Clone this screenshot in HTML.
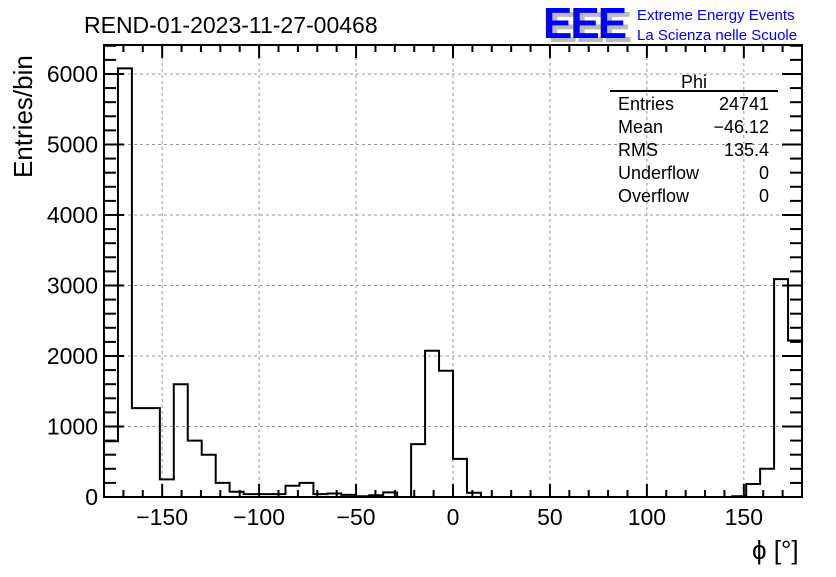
<!DOCTYPE html>
<html><head><meta charset="utf-8"><style>
body{margin:0;background:#fff}
svg text{font-family:"Liberation Sans",sans-serif}
</style></head><body>
<svg id="chart" width="836" height="572" xmlns="http://www.w3.org/2000/svg">
<rect width="836" height="572" fill="#fff"/>
<g id="grid"></g>
<g id="ticks"></g>
<path id="hist" fill="none" stroke="#000" stroke-width="2"/>
<rect x="104" y="45" width="698" height="452" fill="none" stroke="#000" stroke-width="2"/>
<g id="labels" font-size="23" fill="#000"></g>
<text x="84" y="33" font-size="23">REND-01-2023-11-27-00468</text>
<text transform="translate(32,178) rotate(-90)" font-size="26">Entries/bin</text>
<text x="752" y="559" font-size="26">ϕ [°]</text>
<g>
<text x="548" y="42" font-size="44" font-weight="bold" fill="#bbb" letter-spacing="-2">EEE</text>
<text x="543" y="38" font-size="44" font-weight="bold" fill="#0000ff" letter-spacing="-2">EEE</text>
<text x="637" y="20" font-size="15" fill="#0000ff">Extreme Energy Events</text>
<text x="637" y="40" font-size="15" fill="#0000ff">La Scienza nelle Scuole</text>
</g>
<g font-size="18" fill="#000">
<text x="694" y="88" text-anchor="middle">Phi</text>
<line x1="610" y1="91" x2="778" y2="91" stroke="#000" stroke-width="2"/>
<text x="618" y="110">Entries</text><text x="769" y="110" text-anchor="end">24741</text>
<text x="618" y="133">Mean</text><text x="769" y="133" text-anchor="end">−46.12</text>
<text x="618" y="156">RMS</text><text x="769" y="156" text-anchor="end">135.4</text>
<text x="618" y="179">Underflow</text><text x="769" y="179" text-anchor="end">0</text>
<text x="618" y="202">Overflow</text><text x="769" y="202" text-anchor="end">0</text>
</g>
</svg>
<script>
const binLow = -180;
const binWidth = 7.2;
const counts = [790,6080,1260,1260,250,1600,800,600,200,75,40,40,40,160,200,40,50,30,10,25,65,0,750,2075,1790,540,60,0,0,0,0,0,0,0,0,0,0,0,0,0,0,0,0,0,0,10,185,400,3090,2220];
const xTicks = [-150,-100,-50,0,50,100,150];
const xTickLabels = ["−150","−100","−50","0","50","100","150"];
const yTicks = [0,1000,2000,3000,4000,5000,6000];
const L=104,R=802,T=45,B=497,xmin=-180,xmax=180,ymax=6411;
const X=v=>L+(v-xmin)/(xmax-xmin)*(R-L);
const Y=v=>B-v/ymax*(B-T);
const ns="http://www.w3.org/2000/svg";
function mk(tag,attrs,parent){const e=document.createElementNS(ns,tag);for(const k in attrs)e.setAttribute(k,attrs[k]);parent.appendChild(e);return e;}
const grid=document.getElementById('grid'),ticks=document.getElementById('ticks'),labels=document.getElementById('labels');
xTicks.forEach((t,i)=>{
 const g=mk('line',{x1:X(t),x2:X(t),y1:T,y2:B,stroke:'#999','stroke-dasharray':'3,3'},grid);
 
 
 const tx=mk('text',{x:X(t),y:525,'text-anchor':'middle'},labels);
 tx.textContent=xTickLabels[i];
 
 
});
yTicks.forEach(t=>{
 const g=mk('line',{x1:L,x2:R,y1:Y(t),y2:Y(t),stroke:'#999','stroke-dasharray':'3,3'},grid);
 
 
 const tx=mk('text',{x:98,y:Y(t)+8,'text-anchor':'end'},labels);
 tx.textContent=t;
 
 
});
for(let v=-170;v<=170;v+=10){const maj=v%50===0,len=maj?13:7;
 mk('line',{x1:X(v),x2:X(v),y1:B,y2:B-len,stroke:'#000','stroke-width':2},ticks);
 mk('line',{x1:X(v),x2:X(v),y1:T,y2:T+len,stroke:'#000','stroke-width':2},ticks);}
for(let v=0;v<=ymax;v+=200){const maj=v%1000===0,len=maj?20:12;
 mk('line',{x1:L,x2:L+len,y1:Y(v),y2:Y(v),stroke:'#000','stroke-width':2},ticks);
 mk('line',{x1:R,x2:R-len,y1:Y(v),y2:Y(v),stroke:'#000','stroke-width':2},ticks);}
let d='M'+X(binLow)+','+Y(counts[0]);
counts.forEach((c,i)=>{const x0=X(binLow+i*binWidth),x1=X(binLow+(i+1)*binWidth);d+=' L'+x0+','+Y(c)+' L'+x1+','+Y(c);});
document.getElementById('hist').setAttribute('d',d);
</script>
</body></html>
